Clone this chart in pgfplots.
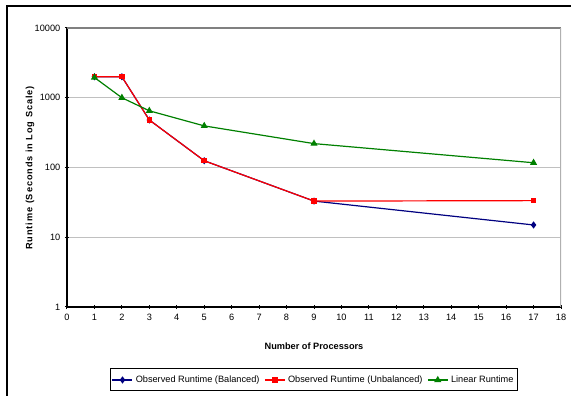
\documentclass[border=0pt]{standalone}
\usepackage{fontspec}
\setmainfont{Liberation Sans}
\usepackage{pgfplots}
\pgfplotsset{compat=1.18}
\definecolor{navyb}{RGB}{0,0,128}
\definecolor{redu}{RGB}{255,0,0}
\definecolor{greenl}{RGB}{0,128,0}
\definecolor{gridc}{RGB}{192,192,192}
\definecolor{topc}{RGB}{128,128,128}
\definecolor{rightc}{RGB}{176,176,176}
\begin{document}
\begin{tikzpicture}[x=0.75pt,y=0.75pt]
\useasboundingbox (0,0) rectangle (571,396);
\draw[line width=1.5pt] (7,0) -- (7,390) -- (571,390);
\begin{axis}[
  at={(50.25pt,66.75pt)}, anchor=south west,
  scale only axis, width=370.5pt, height=209.25pt,
  ymode=log, xmin=0, xmax=18, ymin=1, ymax=10000,
  xtick={0,...,18},
  ytick={1,10,100,1000,10000}, yticklabels={1,10,100,1000,10000},
  yminorticks=false,
  axis lines=left, axis line style={-, line width=1pt, black},
  ymajorgrids, grid style={gridc, line width=1pt},
  tick align=center, major tick length=3pt, tick style={black, line width=0.75pt},
  tick label style={font=\fontsize{6.9}{8}\selectfont},
  /pgf/number format/assume math mode=true,
  legend style={at={(0.5,-0.2616)}, anchor=center, draw=black, line width=0.75pt,
    font=\fontsize{6.9}{8}\selectfont, inner xsep=1pt, inner ysep=3pt,
    /tikz/every even column/.append style={column sep=1.5pt}},
  legend columns=3, legend cell align=left,
  legend image code/.code={\draw[mark repeat=2,mark phase=2] plot coordinates {(0pt,0pt)(7.5pt,0pt)(15pt,0pt)};},
]
\addplot[navyb, line width=0.9pt, mark=diamond*, mark size=2pt, mark options={solid}] coordinates {(1,2000)(2,2000)(3,480)(5,125)(9,33)(17,15)};
\addlegendentry{Observed Runtime (Balanced)}
\addplot[redu, line width=0.9pt, mark=square*, mark size=1.6pt, mark options={solid}] coordinates {(1,2000)(2,2000)(3,480)(5,125)(9,33)(17,33.5)};
\addlegendentry{Observed Runtime (Unbalanced)}
\addplot[greenl, line width=0.9pt, mark=triangle*, mark size=2.2pt, mark options={solid}] coordinates {(1,1950)(2,1000)(3,650)(5,395)(9,220)(17,117)};
\addlegendentry{Linear Runtime}
\draw[topc, line width=1pt] (rel axis cs:0,1) -- (rel axis cs:1,1);
\draw[rightc, line width=1pt] (rel axis cs:1,1) -- (rel axis cs:1,0);
\end{axis}
\node[rotate=90, font=\fontsize{6.9}{8}\selectfont\bfseries\addfontfeature{LetterSpace=10}] at (30,228) {Runtime (Seconds in Log Scale)};
\node[font=\fontsize{6.9}{8}\selectfont\bfseries] at (314,50) {Number of Processors};
\end{tikzpicture}
\end{document}
